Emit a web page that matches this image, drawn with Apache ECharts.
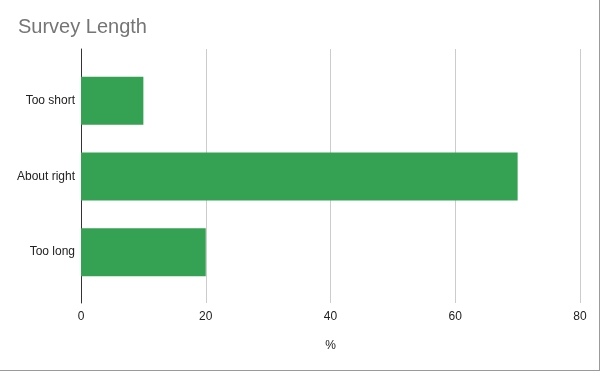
<!DOCTYPE html>
<html>
<head>
<meta charset="utf-8">
<script src="https://cdn.jsdelivr.net/npm/echarts@6/dist/echarts.min.js"></script>
<style>
  html, body { margin: 0; padding: 0; background: #fff; }
  #wrap { width: 599px; height: 370px; border-right: 1px solid #9a9a9a; border-bottom: 1px solid #9a9a9a; overflow: hidden; }
  #chart { width: 599px; height: 370px; }
</style>
</head>
<body>
<div id="wrap"><div id="chart"></div></div>
<script>
const titleText = "Survey Length";
const categories = ["Too short", "About right", "Too long"];
const values = [10, 70, 20];
const xTicks = [0, 20, 40, 60, 80];
const xName = "%";

const chart = echarts.init(document.getElementById('chart'), null, { renderer: 'canvas' });
const font = 'Liberation Sans, Arial, sans-serif';
chart.setOption({
  animation: false,
  backgroundColor: '#fff',
  title: {
    text: titleText, left: 13, top: 12,
    textStyle: { fontFamily: font, fontSize: 20, fontWeight: 'normal', color: '#757575' }
  },
  grid: [
    { left: 81, right: 19, top: 49, bottom: 67, containLabel: false },
    { left: 81, right: 19, top: 63, height: 227, containLabel: false }
  ],
  xAxis: [
    {
      gridIndex: 0, type: 'value', min: xTicks[0], max: xTicks[xTicks.length - 1], interval: 20,
      name: xName, nameLocation: 'middle', nameGap: 37,
      nameTextStyle: { fontFamily: font, fontSize: 12, color: '#222' },
      axisLine: { show: false }, axisTick: { show: false },
      axisLabel: { fontFamily: font, fontSize: 12, color: '#222', margin: 8 },
      splitLine: { show: true, lineStyle: { color: '#cccccc', width: 1 } }
    },
    {
      gridIndex: 1, type: 'value', min: xTicks[0], max: xTicks[xTicks.length - 1], interval: 20,
      show: false, splitLine: { show: false }
    }
  ],
  yAxis: [
    {
      gridIndex: 0, type: 'value', min: 0, max: 1,
      axisLine: { show: true, lineStyle: { color: '#333', width: 1 } },
      axisTick: { show: false }, axisLabel: { show: false }, splitLine: { show: false }
    },
    {
      gridIndex: 1, type: 'category', data: categories, inverse: true,
      axisLine: { show: false }, axisTick: { show: false },
      axisLabel: { fontFamily: font, fontSize: 12, color: '#222', margin: 6 },
      splitLine: { show: false }
    }
  ],
  series: [{
    type: 'bar', xAxisIndex: 1, yAxisIndex: 1,
    data: values, barWidth: 48,
    itemStyle: { color: '#35a152' }
  }]
});
</script>
</body>
</html>
